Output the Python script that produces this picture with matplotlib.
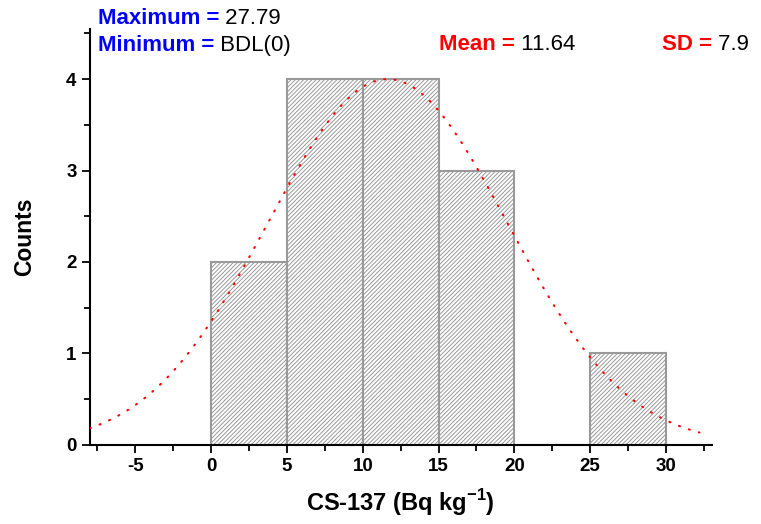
import numpy as np
import matplotlib
matplotlib.use("Agg")
import matplotlib.pyplot as plt
from matplotlib.ticker import MultipleLocator

plt.rcParams['font.family'] = ['Liberation Sans', 'DejaVu Sans']
plt.rcParams['mathtext.fontset'] = 'custom'
plt.rcParams['mathtext.bf'] = 'Liberation Sans:bold'
plt.rcParams['mathtext.rm'] = 'Liberation Sans'
plt.rcParams['axes.unicode_minus'] = False
plt.rcParams['hatch.color'] = '#777777'
plt.rcParams['hatch.linewidth'] = 0.7

# histogram bins and counts
bin_edges = [0, 5, 10, 15, 20, 25, 30]
counts = [2, 4, 4, 3, 0, 1]

# summary stats shown on top
stat_max = "27.79"
stat_min = "BDL(0)"
stat_mean = 11.64
stat_sd = 7.9
curve_peak = 4

fig = plt.figure(figsize=(7.61, 5.24), dpi=100)
ax = fig.add_axes([0.118, 0.151, 0.817, 0.794])

lefts = bin_edges[:-1]
widths = np.diff(bin_edges)
ax.bar(lefts, counts, width=widths, align='edge', facecolor='white',
       edgecolor='#999999', linewidth=1.5, hatch='////////', zorder=2)

# normal curve from mean / sd
xs = np.linspace(-8, 32.2, 400)
ys = curve_peak * np.exp(-(xs - stat_mean) ** 2 / (2 * stat_sd ** 2))
ax.plot(xs, ys, color='red', linewidth=1.5, linestyle=(0, (0.5, 4.5)),
        dash_capstyle='round', zorder=3)

ax.set_xlim(-8, 33)
ax.set_ylim(0, 4.55)
ax.xaxis.set_major_locator(MultipleLocator(5))
ax.xaxis.set_minor_locator(MultipleLocator(2.5))
ax.yaxis.set_major_locator(MultipleLocator(1))
ax.yaxis.set_minor_locator(MultipleLocator(0.5))
ax.set_xticks([-5, 0, 5, 10, 15, 20, 25, 30])

for s in ['top', 'right']:
    ax.spines[s].set_visible(False)
for s in ['left', 'bottom']:
    ax.spines[s].set_linewidth(1.5)

ax.tick_params(which='major', direction='out', length=6, width=1.3,
               labelsize=13.5)
ax.tick_params(which='minor', direction='out', length=4, width=1.3)
for lab in ax.get_xticklabels() + ax.get_yticklabels():
    lab.set_fontweight('bold')

ax.set_xlabel('CS-137 (Bq kg$^{\\mathbf{-1}}$)', fontsize=17, fontweight='bold',
              labelpad=9)
ax.set_ylabel('Counts', fontsize=16.5, fontweight='bold', labelpad=22)


def stat_text(x, y, label, value, color):
    t = fig.text(x / 761, 1 - y / 524, label, color=color, fontsize=16,
                 fontweight='bold', va='baseline')
    ax.annotate(' ' + value, xy=(1, 0), xycoords=t, fontsize=16,
                color='black', va='bottom', ha='left',
                annotation_clip=False)


stat_text(98, 24, 'Maximum =', stat_max, 'blue')
stat_text(98, 51, 'Minimum =', stat_min, 'blue')
stat_text(439, 50, 'Mean =', f'{stat_mean}', 'red')
stat_text(662, 50, 'SD =', f'{stat_sd}', 'red')

fig.savefig('out.png', dpi=100)
